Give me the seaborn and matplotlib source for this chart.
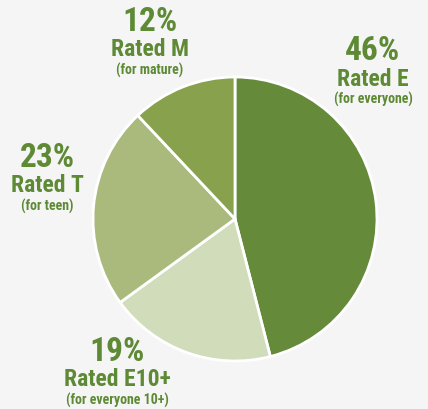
import matplotlib
matplotlib.use("Agg")
import matplotlib.pyplot as plt
import seaborn as sns
from matplotlib import font_manager

# data
ratings = ['Rated E', 'Rated E10+', 'Rated T', 'Rated M']
subtitles = ['(for everyone)', '(for everyone 10+)', '(for teen)', '(for mature)']
shares = [46, 19, 23, 12]
colors = ['#658a3a', '#d0dcba', '#a9ba7c', '#88a14c']

sns.set_theme(style='white')
names = {f.name for f in font_manager.fontManager.ttflist}
fam = 'DejaVu Sans'
for cand in ['Roboto Condensed', 'Archivo Narrow', 'Sofia Sans Condensed']:
    if cand in names:
        fam = cand
        break
plt.rcParams['font.family'] = [fam, 'DejaVu Sans']

W, H = 428, 409
fig = plt.figure(figsize=(W / 100, H / 100), dpi=100, facecolor='#f5f5f5')

cx, cy, r = 235, 219, 142
ax = fig.add_axes([(cx - r) / W, (H - cy - r) / H, 2 * r / W, 2 * r / H])
ax.pie(shares, colors=colors, startangle=90, counterclock=False,
       wedgeprops=dict(edgecolor='white', linewidth=2))
ax.set_xlim(-1, 1)
ax.set_ylim(-1, 1)
ax.set_aspect('equal')
ax.axis('off')

# label positions in pixels (x center, y of pct line)
label_pos = [(373, 51), (117, 352), (47, 158), (150, 22)]
txt = '#5e8a36'
for name, sub, val, (x, y) in zip(ratings, subtitles, shares, label_pos):
    fig.text(x / W, 1 - y / H, f'{val}%', ha='center', va='center',
             fontsize=24, fontweight='bold', color=txt)
    fig.text(x / W, 1 - (y + 28) / H, name, ha='center', va='center',
             fontsize=17, fontweight='bold', color=txt)
    fig.text(x / W, 1 - (y + 48) / H, sub, ha='center', va='center',
             fontsize=10, fontweight='bold', color=txt)

fig.savefig('out.png', dpi=100, facecolor=fig.get_facecolor())
